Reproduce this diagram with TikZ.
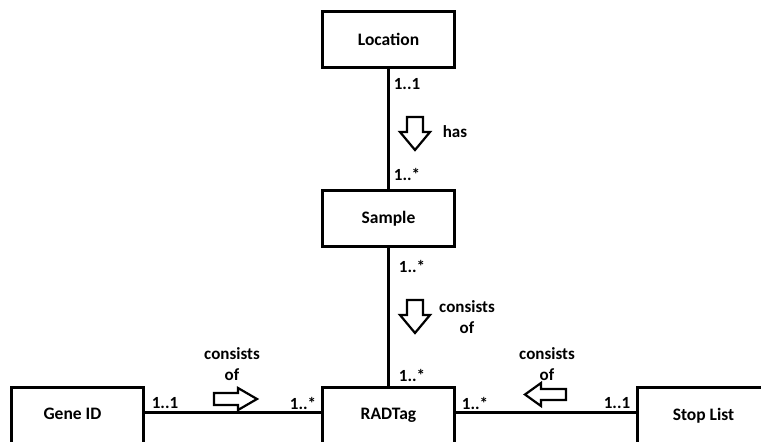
\documentclass[tikz,border=0pt]{standalone}
\usepackage{fontspec}
\setmainfont{Carlito}
\begin{document}
\begin{tikzpicture}[x=1pt,y=-1pt,
  ent/.style={draw=black,line width=3pt,fill=white,minimum width=132pt,minimum height=56pt,inner sep=0pt,font=\fontsize{17.5}{20}\selectfont\bfseries},
  lbl/.style={inner sep=0pt,font=\fontsize{17}{20.5}\selectfont\bfseries},
  conn/.style={line width=3pt},
  harrow/.style={draw=black,line width=2.2pt,fill=white,line join=miter}]
\useasboundingbox (0,0) rectangle (761,442);
\clip (0,0) rectangle (761,442);
\node[ent] (loc) at (388.5,39.5) {Location};
\node[ent] (smp) at (388.5,218.5) {Sample};
\node[ent] (rad) at (388.5,415.5) {\raisebox{3pt}{RADTag}};
\node[ent] (gen) at (77.5,415.5) {\hspace{-10pt}\raisebox{3pt}{Gene ID}};
\node[ent] (stp) at (703.5,415.5) {\raisebox{3pt}{Stop List}};
\draw[conn] (loc.south) -- (smp.north);
\draw[conn] (smp.south) -- (rad.north);
\draw[conn] ([yshift=3.5pt]gen.east) -- ([yshift=3.5pt]rad.west);
\draw[conn] ([yshift=3.5pt]rad.east) -- ([yshift=3.5pt]stp.west);
% multiplicities
\node[lbl] (m1) at (407,84) {1..1};
\node[lbl] (m2) at (407,174) {1..*};
\node[lbl] (m3) at (412,266) {1..*};
\node[lbl] (m4) at (412,375) {1..*};
\node[lbl] (m5) at (165,403) {1..1};
\node[lbl] (m6) at (303,403) {1..*};
\node[lbl] (m7) at (475,403) {1..*};
\node[lbl] (m8) at (617,403) {1..1};
% relation labels
\node[lbl] (r1) at (455,132) {has};
\node[lbl,align=center] (r2) at (467,317) {consists\\of};
\node[lbl,align=center] (r3) at (232,364) {consists\\of};
\node[lbl,align=center] (r4) at (547,364) {consists\\of};
% hollow arrows
\draw[harrow] (407,117) -- (423,117) -- (423,132) -- (430,132) -- (415,150) -- (400,132) -- (407,132) -- cycle;
\draw[harrow] (407,300) -- (423,300) -- (423,315) -- (430,315) -- (415,333) -- (400,315) -- (407,315) -- cycle;
\draw[harrow] (214,393) -- (238,393) -- (238,388) -- (257,399) -- (238,410) -- (238,405) -- (214,405) -- cycle;
\draw[harrow] (566,389) -- (541,389) -- (541,383) -- (525,394.5) -- (541,406) -- (541,400) -- (566,400) -- cycle;
\end{tikzpicture}
\end{document}
